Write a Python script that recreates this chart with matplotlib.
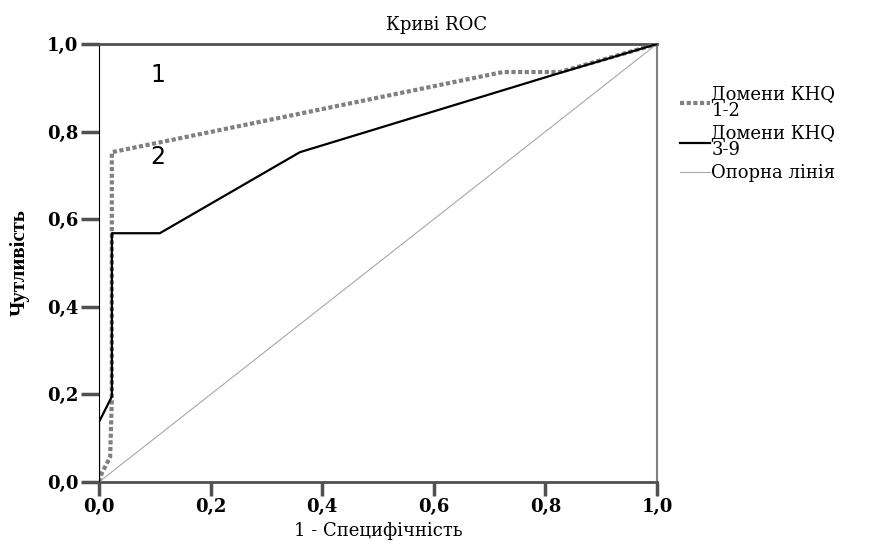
import matplotlib.pyplot as plt

# ROC curve points
fpr_12 = [0.0, 0.005, 0.020, 0.023, 0.023, 0.724, 0.826, 1.0]
tpr_12 = [0.0, 0.020, 0.057, 0.190, 0.753, 0.936, 0.936, 1.0]

fpr_39 = [0.0, 0.0, 0.023, 0.023, 0.109, 0.360, 0.826, 1.0]
tpr_39 = [0.0, 0.137, 0.195, 0.568, 0.568, 0.753, 0.934, 1.0]

ref_x = [0.0, 1.0]
ref_y = [0.0, 1.0]

labels = ['Домени КНQ\n1-2', 'Домени КНQ\n3-9', 'Опорна лінія']
ticks = [0.0, 0.2, 0.4, 0.6, 0.8, 1.0]
tick_labels = ['0,0', '0,2', '0,4', '0,6', '0,8', '1,0']

plt.rcParams['font.family'] = ['DejaVu Serif', 'Liberation Serif']

fig = plt.figure(figsize=(8.74, 5.44), dpi=100)
ax = fig.add_axes([99 / 874, 1 - 482 / 544, 558 / 874, 438 / 544])

ax.plot(fpr_12, tpr_12, color='#808080', lw=3, ls=(0, (1, 0.6)), label=labels[0], zorder=3)
ax.plot(fpr_39, tpr_39, color='black', lw=1.6, label=labels[1], zorder=4)
ax.plot(ref_x, ref_y, color='#a8a8a8', lw=0.8, label=labels[2], zorder=2)

ax.set_xlim(0, 1)
ax.set_ylim(0, 1)
ax.set_xticks(ticks)
ax.set_xticklabels(tick_labels)
ax.set_yticks(ticks)
ax.set_yticklabels(tick_labels)
ax.tick_params(direction='out', width=2.5, color='#505050', labelsize=13)
ax.tick_params(axis='x', length=10, pad=1.5)
ax.tick_params(axis='y', length=13, pad=2)
for lab in ax.get_xticklabels() + ax.get_yticklabels():
    lab.set_fontweight('bold')

ax.spines['left'].set_color('black')
ax.spines['bottom'].set_color('#505050')
ax.spines['bottom'].set_linewidth(2)
ax.spines['top'].set_color('#505050')
ax.spines['top'].set_linewidth(2)
ax.spines['right'].set_color('#808080')
ax.spines['right'].set_linewidth(1.5)

# title is centred on the whole figure, not on the axes
fig.suptitle('Криві ROC', fontsize=13, x=0.5, y=1 - 25 / 544, va='center')
ax.set_xlabel('1 - Специфічність', fontsize=13, labelpad=4)
ax.set_ylabel('Чутливість', fontsize=15, fontweight='bold', family='Liberation Serif', labelpad=12)

# the hand-written area markers
ax.text(0.106, 0.929, '1', fontsize=17, family='DejaVu Sans', ha='center', va='center')
ax.text(0.106, 0.742, '2', fontsize=17, family='DejaVu Sans', ha='center', va='center')

leg = ax.legend(loc='upper left', bbox_to_anchor=(1.041, 0.905), frameon=False,
                fontsize=13, handlelength=1.65, handletextpad=0.1, labelspacing=0.3,
                borderaxespad=0, borderpad=0)
for t in leg.get_texts():
    t.set_linespacing(0.85)

fig.savefig('out.png', dpi=100)
